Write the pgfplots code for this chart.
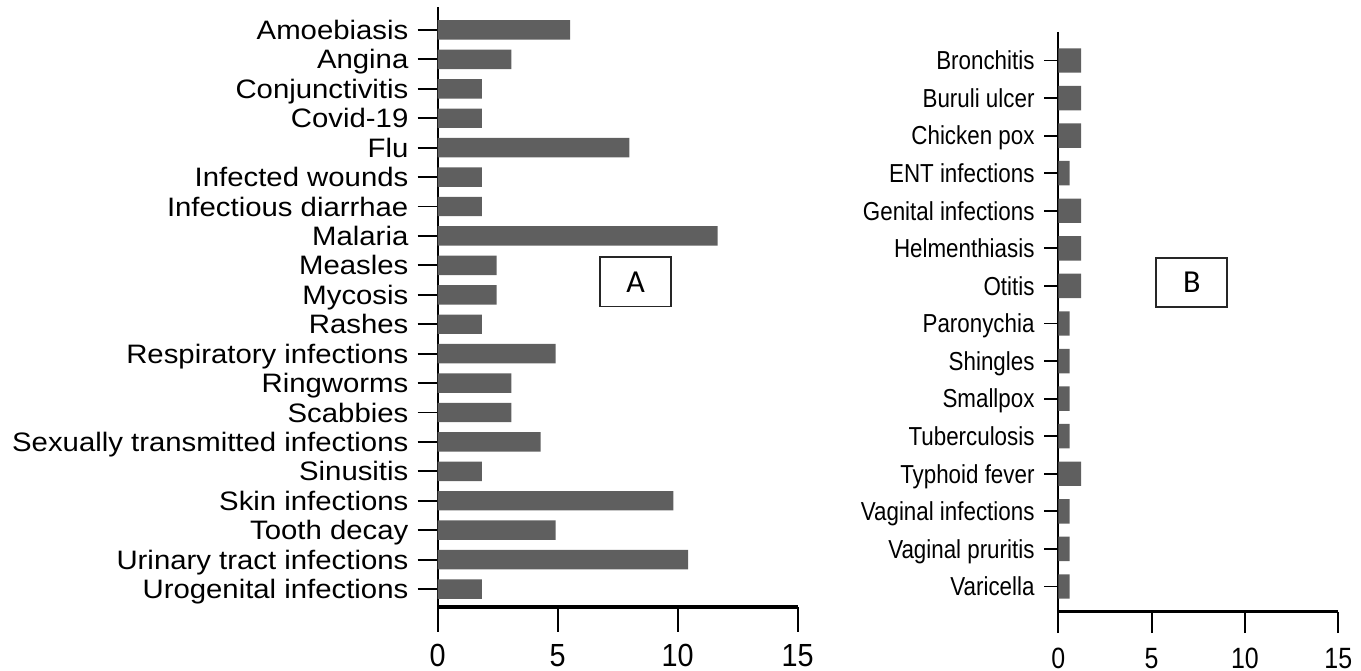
\documentclass[border=0pt]{standalone}
\usepackage{pgfplots}
\pgfplotsset{compat=1.18}
\usepackage{fontspec}
\setmainfont{Liberation Sans}
\newfontfamily\labA[FakeStretch=1.1]{Liberation Sans}
\newfontfamily\labB[FakeStretch=0.86]{Liberation Sans}
\newfontfamily\numA[FakeStretch=0.9]{Liberation Sans}
\newfontfamily\numB[FakeStretch=0.85]{Liberation Sans}
\newfontfamily\boxfont{Carlito}
\definecolor{barfill}{RGB}{95,95,95}

% Percentage of citations per disease (n = 163)
\pgfplotstableread{
idx val
0  5.52
1  3.07
2  1.84
3  1.84
4  7.98
5  1.84
6  1.84
7  11.66
8  2.45
9  2.45
10 1.84
11 4.91
12 3.07
13 3.07
14 4.29
15 1.84
16 9.82
17 4.91
18 10.43
19 1.84
}\tableA

\pgfplotstableread{
idx val
0  1.23
1  1.23
2  1.23
3  0.61
4  1.23
5  1.23
6  1.23
7  0.61
8  0.61
9  0.61
10 0.61
11 1.23
12 0.61
13 0.61
14 0.61
}\tableB

\pgfplotsset{
  panel/.style={
    scale only axis,
    xbar,
    xmin=0, xmax=15,
    xtick={0,5,10,15},
    y dir=reverse,
    axis x line=bottom,
    axis y line=left,
    axis line style={-, black},
    x axis line style={line width=2.6pt},
    y axis line style={line width=1.5pt},
    tick align=outside,
    /pgf/number format/assume math mode=true,
    clip=false,
  },
}

\begin{document}
\begin{tikzpicture}
\useasboundingbox (0,0) rectangle (1020.75pt,503.25pt);

% Panel A
\begin{axis}[panel,
  at={(328.3pt,48pt)}, anchor=south west,
  width=270pt, height=450pt,
  ymin=-0.78, ymax=19.61,
  major tick length=18.5pt,
  ytick={0,...,19},
  yticklabels={Amoebiasis, Angina, Conjunctivitis, Covid-19, Flu,
    Infected wounds, Infectious diarrhae, Malaria, Measles, Mycosis,
    Rashes, Respiratory infections, Ringworms, Scabbies,
    Sexually transmitted infections, Sinusitis, Skin infections,
    Tooth decay, Urinary tract infections, Urogenital infections},
  yticklabel style={font=\labA\fontsize{20}{24}\selectfont,
    anchor=base east, xshift=0pt, yshift=-7.2pt},
  xticklabel style={font=\numA\fontsize{24}{28}\selectfont,
    anchor=north, yshift=-5.8pt},
  xtick style={line width=1.6pt, black},
  ytick style={line width=1.4pt, black, /pgfplots/major tick length=15pt},
  bar width=0.66,
]
\addplot[fill=barfill, draw=none] table[x=val, y=idx] {\tableA};
\node[draw=black!85, line width=1.4pt, minimum width=53.5pt, minimum height=37pt,
  inner sep=0pt, font=\boxfont\fontsize{24}{28}\selectfont]
  at (axis cs:8.25,8.56) {A};
\end{axis}

% Panel B
\begin{axis}[panel,
  at={(793.7pt,44.5pt)}, anchor=south west,
  width=210pt, height=434.8pt,
  ymin=-0.76, ymax=14.67,
  major tick length=16pt,
  ytick={0,...,14},
  yticklabels={Bronchitis, Buruli ulcer, Chicken pox, ENT infections,
    Genital infections, Helmenthiasis, Otitis, Paronychia, Shingles,
    Smallpox, Tuberculosis, Typhoid fever, Vaginal infections,
    Vaginal pruritis, Varicella},
  yticklabel style={font=\labB\fontsize{19.5}{23}\selectfont,
    anchor=base east, xshift=1.7pt, yshift=-7pt},
  xticklabel style={font=\numB\fontsize{22}{26}\selectfont,
    anchor=north, yshift=-7.8pt},
  xtick style={line width=1.6pt, black},
  ytick style={line width=1.4pt, black, /pgfplots/major tick length=10.5pt},
  bar width=0.65,
]
\addplot[fill=barfill, draw=none] table[x=val, y=idx] {\tableB};
\node[draw=black!85, line width=1.4pt, minimum width=53.5pt, minimum height=36.5pt,
  inner sep=0pt, font=\boxfont\fontsize{24}{28}\selectfont]
  at (axis cs:7.15,5.91) {B};
\end{axis}
\end{tikzpicture}
\end{document}
